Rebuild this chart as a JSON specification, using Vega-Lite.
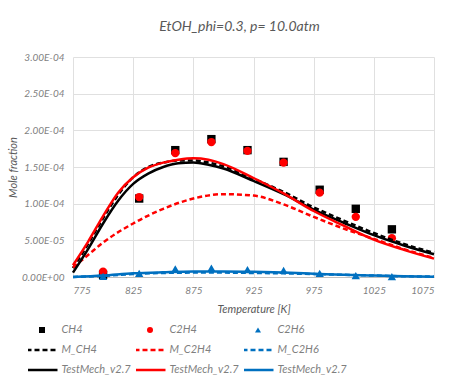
{
  "$schema": "https://vega.github.io/schema/vega-lite/v6.json",
  "width": 361,
  "height": 220,
  "autosize": {"type": "none"},
  "padding": {"left": 73, "top": 57, "right": 33, "bottom": 101},
  "background": "white",
  "title": {"text": "EtOH_phi=0.3, p= 10.0atm", "font": "Lato", "fontSize": 14, "fontStyle": "italic", "fontWeight": "normal", "color": "#595959", "offset": 18, "dx": -14},
  "config": {
    "view": {"stroke": null},
    "font": "Lato",
    "axis": {"labelFont": "Lato", "labelFontStyle": "italic", "labelFontSize": 10, "labelColor": "#7f7f7f", "titleFont": "Lato", "titleFontStyle": "italic", "titleFontWeight": "normal", "titleFontSize": 11, "titleColor": "#595959", "ticks": false, "grid": true, "gridColor": "#e0e0e0", "gridWidth": 1}
  },
  "data": {"values": [
    {"series": "CH4", "T": 800, "y": 0.000003}, {"series": "CH4", "T": 830, "y": 0.000107}, {"series": "CH4", "T": 860, "y": 0.000173}, {"series": "CH4", "T": 890, "y": 0.000188}, {"series": "CH4", "T": 920, "y": 0.000173}, {"series": "CH4", "T": 950, "y": 0.000157}, {"series": "CH4", "T": 980, "y": 0.000119}, {"series": "CH4", "T": 1010, "y": 0.000093}, {"series": "CH4", "T": 1040, "y": 0.000065},
    {"series": "C2H4", "T": 800, "y": 0.0000072}, {"series": "C2H4", "T": 830, "y": 0.000109}, {"series": "C2H4", "T": 860, "y": 0.000169}, {"series": "C2H4", "T": 890, "y": 0.000184}, {"series": "C2H4", "T": 920, "y": 0.000172}, {"series": "C2H4", "T": 950, "y": 0.000156}, {"series": "C2H4", "T": 980, "y": 0.000115}, {"series": "C2H4", "T": 1010, "y": 0.000082}, {"series": "C2H4", "T": 1040, "y": 0.000053},
    {"series": "C2H6", "T": 800, "y": 0.000001}, {"series": "C2H6", "T": 830, "y": 0.000005}, {"series": "C2H6", "T": 860, "y": 0.000011}, {"series": "C2H6", "T": 890, "y": 0.000012}, {"series": "C2H6", "T": 920, "y": 0.00001}, {"series": "C2H6", "T": 950, "y": 0.000009}, {"series": "C2H6", "T": 980, "y": 0.000005}, {"series": "C2H6", "T": 1010, "y": 0.000002}, {"series": "C2H6", "T": 1040, "y": 0.0000005},

    {"series": "M_CH4", "T": 775, "y": 0.000012}, {"series": "M_CH4", "T": 787.5, "y": 0.000045}, {"series": "M_CH4", "T": 800, "y": 0.00008}, {"series": "M_CH4", "T": 812.5, "y": 0.000112}, {"series": "M_CH4", "T": 825, "y": 0.000136}, {"series": "M_CH4", "T": 837.5, "y": 0.00015}, {"series": "M_CH4", "T": 850, "y": 0.000156}, {"series": "M_CH4", "T": 862.5, "y": 0.000159}, {"series": "M_CH4", "T": 875, "y": 0.000159}, {"series": "M_CH4", "T": 887.5, "y": 0.000156}, {"series": "M_CH4", "T": 900, "y": 0.000151}, {"series": "M_CH4", "T": 925, "y": 0.000134}, {"series": "M_CH4", "T": 950, "y": 0.000116}, {"series": "M_CH4", "T": 975, "y": 0.000095}, {"series": "M_CH4", "T": 1000, "y": 0.000077}, {"series": "M_CH4", "T": 1025, "y": 0.00006}, {"series": "M_CH4", "T": 1050, "y": 0.000045}, {"series": "M_CH4", "T": 1075, "y": 0.000033},

    {"series": "M_C2H4", "T": 775, "y": 0.000013}, {"series": "M_C2H4", "T": 787.5, "y": 0.00003}, {"series": "M_C2H4", "T": 800, "y": 0.000047}, {"series": "M_C2H4", "T": 825, "y": 0.000073}, {"series": "M_C2H4", "T": 850, "y": 0.000093}, {"series": "M_C2H4", "T": 875, "y": 0.000107}, {"series": "M_C2H4", "T": 900, "y": 0.000113}, {"series": "M_C2H4", "T": 925, "y": 0.000111}, {"series": "M_C2H4", "T": 950, "y": 0.000099}, {"series": "M_C2H4", "T": 975, "y": 0.000082}, {"series": "M_C2H4", "T": 1000, "y": 0.000066}, {"series": "M_C2H4", "T": 1025, "y": 0.000052}, {"series": "M_C2H4", "T": 1050, "y": 0.000038}, {"series": "M_C2H4", "T": 1075, "y": 0.000026},

    {"series": "M_C2H6", "T": 775, "y": 0}, {"series": "M_C2H6", "T": 800, "y": 0.0000015}, {"series": "M_C2H6", "T": 825, "y": 0.000004}, {"series": "M_C2H6", "T": 850, "y": 0.0000055}, {"series": "M_C2H6", "T": 875, "y": 0.000006}, {"series": "M_C2H6", "T": 900, "y": 0.000006}, {"series": "M_C2H6", "T": 925, "y": 0.0000055}, {"series": "M_C2H6", "T": 950, "y": 0.000005}, {"series": "M_C2H6", "T": 975, "y": 0.000004}, {"series": "M_C2H6", "T": 1000, "y": 0.000003}, {"series": "M_C2H6", "T": 1025, "y": 0.000002}, {"series": "M_C2H6", "T": 1050, "y": 0.000001}, {"series": "M_C2H6", "T": 1075, "y": 0.0000005},

    {"series": "TestMech_v2.7 CH4", "T": 775, "y": 0.000006}, {"series": "TestMech_v2.7 CH4", "T": 787.5, "y": 0.000038}, {"series": "TestMech_v2.7 CH4", "T": 800, "y": 0.000073}, {"series": "TestMech_v2.7 CH4", "T": 812.5, "y": 0.000104}, {"series": "TestMech_v2.7 CH4", "T": 825, "y": 0.000127}, {"series": "TestMech_v2.7 CH4", "T": 837.5, "y": 0.000141}, {"series": "TestMech_v2.7 CH4", "T": 850, "y": 0.00015}, {"series": "TestMech_v2.7 CH4", "T": 862.5, "y": 0.000155}, {"series": "TestMech_v2.7 CH4", "T": 875, "y": 0.000156}, {"series": "TestMech_v2.7 CH4", "T": 887.5, "y": 0.000153}, {"series": "TestMech_v2.7 CH4", "T": 900, "y": 0.000148}, {"series": "TestMech_v2.7 CH4", "T": 925, "y": 0.000131}, {"series": "TestMech_v2.7 CH4", "T": 950, "y": 0.000113}, {"series": "TestMech_v2.7 CH4", "T": 975, "y": 0.000092}, {"series": "TestMech_v2.7 CH4", "T": 1000, "y": 0.000074}, {"series": "TestMech_v2.7 CH4", "T": 1025, "y": 0.000057}, {"series": "TestMech_v2.7 CH4", "T": 1050, "y": 0.000043}, {"series": "TestMech_v2.7 CH4", "T": 1075, "y": 0.000031},

    {"series": "TestMech_v2.7 C2H4", "T": 775, "y": 0.000016}, {"series": "TestMech_v2.7 C2H4", "T": 787.5, "y": 0.000048}, {"series": "TestMech_v2.7 C2H4", "T": 800, "y": 0.000083}, {"series": "TestMech_v2.7 C2H4", "T": 812.5, "y": 0.000115}, {"series": "TestMech_v2.7 C2H4", "T": 825, "y": 0.000136}, {"series": "TestMech_v2.7 C2H4", "T": 837.5, "y": 0.000149}, {"series": "TestMech_v2.7 C2H4", "T": 850, "y": 0.000156}, {"series": "TestMech_v2.7 C2H4", "T": 862.5, "y": 0.00016}, {"series": "TestMech_v2.7 C2H4", "T": 875, "y": 0.000162}, {"series": "TestMech_v2.7 C2H4", "T": 887.5, "y": 0.00016}, {"series": "TestMech_v2.7 C2H4", "T": 900, "y": 0.000154}, {"series": "TestMech_v2.7 C2H4", "T": 925, "y": 0.000135}, {"series": "TestMech_v2.7 C2H4", "T": 950, "y": 0.000114}, {"series": "TestMech_v2.7 C2H4", "T": 975, "y": 0.00009}, {"series": "TestMech_v2.7 C2H4", "T": 1000, "y": 0.00007}, {"series": "TestMech_v2.7 C2H4", "T": 1025, "y": 0.000051}, {"series": "TestMech_v2.7 C2H4", "T": 1050, "y": 0.000037}, {"series": "TestMech_v2.7 C2H4", "T": 1075, "y": 0.000025},

    {"series": "TestMech_v2.7 C2H6", "T": 775, "y": 0}, {"series": "TestMech_v2.7 C2H6", "T": 800, "y": 0.000002}, {"series": "TestMech_v2.7 C2H6", "T": 825, "y": 0.000005}, {"series": "TestMech_v2.7 C2H6", "T": 850, "y": 0.0000065}, {"series": "TestMech_v2.7 C2H6", "T": 875, "y": 0.0000075}, {"series": "TestMech_v2.7 C2H6", "T": 900, "y": 0.0000075}, {"series": "TestMech_v2.7 C2H6", "T": 925, "y": 0.000007}, {"series": "TestMech_v2.7 C2H6", "T": 950, "y": 0.000006}, {"series": "TestMech_v2.7 C2H6", "T": 975, "y": 0.0000045}, {"series": "TestMech_v2.7 C2H6", "T": 1000, "y": 0.000003}, {"series": "TestMech_v2.7 C2H6", "T": 1025, "y": 0.000002}, {"series": "TestMech_v2.7 C2H6", "T": 1050, "y": 0.000001}, {"series": "TestMech_v2.7 C2H6", "T": 1075, "y": 0.0000005}
  ]},
  "encoding": {
    "x": {"field": "T", "type": "quantitative", "scale": {"domain": [775, 1075], "nice": false, "zero": false},
      "axis": {"title": "Temperature [K]", "values": [775, 825, 875, 925, 975, 1025, 1075], "format": "d", "labelPadding": 8, "titlePadding": 8, "domain": true, "domainColor": "#bfbfbf", "domainWidth": 1}},
    "y": {"field": "y", "type": "quantitative", "scale": {"domain": [0, 0.0003], "nice": false},
      "axis": {"title": "Mole fraction", "values": [0, 0.00005, 0.0001, 0.00015, 0.0002, 0.00025, 0.0003], "labelExpr": "replace(replace(format(datum.value, '.2e'), 'e-', 'E-0'), 'e+', 'E+0')", "labelPadding": 9, "titlePadding": 3, "domain": false}},
    "color": {"field": "series", "type": "nominal",
      "scale": {"domain": ["CH4", "C2H4", "C2H6", "M_CH4", "M_C2H4", "M_C2H6", "TestMech_v2.7 CH4", "TestMech_v2.7 C2H4", "TestMech_v2.7 C2H6"],
                "range": ["#000000", "#ff0000", "#0070c0", "#000000", "#ff0000", "#0070c0", "#000000", "#ff0000", "#0070c0"]},
      "legend": {"title": null, "orient": "none", "legendX": -45, "legendY": 263, "direction": "horizontal", "columns": 3, "columnPadding": 5, "rowPadding": 0, "clipHeight": 20,
        "symbolSize": 961, "symbolType": "stroke", "symbolStrokeWidth": 2.5, "symbolOffset": 8.5, "labelFont": "Lato", "labelFontStyle": "italic", "labelFontSize": 11, "labelColor": "#7f7f7f", "labelOffset": 14, "labelLimit": 200,
        "labelExpr": "indexof(datum.label, 'TestMech') == 0 ? 'TestMech_v2.7' : datum.label",
        "encode": {"symbols": {"update": {
          "shape": {"signal": "datum.value == 'CH4' ? 'square' : datum.value == 'C2H4' ? 'circle' : datum.value == 'C2H6' ? 'triangle-up' : 'stroke'"},
          "size": {"signal": "datum.value == 'CH4' || datum.value == 'C2H4' || datum.value == 'C2H6' ? 36 : 961"},
          "fill": {"signal": "datum.value == 'CH4' || datum.value == 'C2H4' || datum.value == 'C2H6' ? scale('color', datum.value) : 'transparent'"},
          "stroke": {"signal": "scale('color', datum.value)"},
          "strokeWidth": {"signal": "datum.value == 'CH4' || datum.value == 'C2H4' || datum.value == 'C2H6' ? 0 : 2.5"},
          "strokeDash": {"signal": "indexof(datum.value, 'M_') == 0 ? [5, 3] : [1, 0]"},
          "opacity": {"value": 1}
        }}}}
    }
  },
  "layer": [
    {"transform": [{"filter": "datum.series == 'CH4' || datum.series == 'C2H4' || datum.series == 'C2H6'"}],
     "mark": {"type": "point", "filled": true, "opacity": 1, "size": 70},
     "encoding": {"shape": {"field": "series", "type": "nominal", "scale": {"domain": ["CH4", "C2H4", "C2H6"], "range": ["square", "circle", "triangle-up"]}, "legend": null}}},
    {"transform": [{"filter": "indexof(datum.series, 'M_') == 0"}],
     "mark": {"type": "line", "strokeWidth": 2.5, "strokeDash": [5, 3], "interpolate": "monotone"},
     "encoding": {"detail": {"field": "series"}}},
    {"transform": [{"filter": "indexof(datum.series, 'TestMech') == 0"}],
     "mark": {"type": "line", "strokeWidth": 2.5, "interpolate": "monotone"},
     "encoding": {"detail": {"field": "series"}}}
  ]
}
